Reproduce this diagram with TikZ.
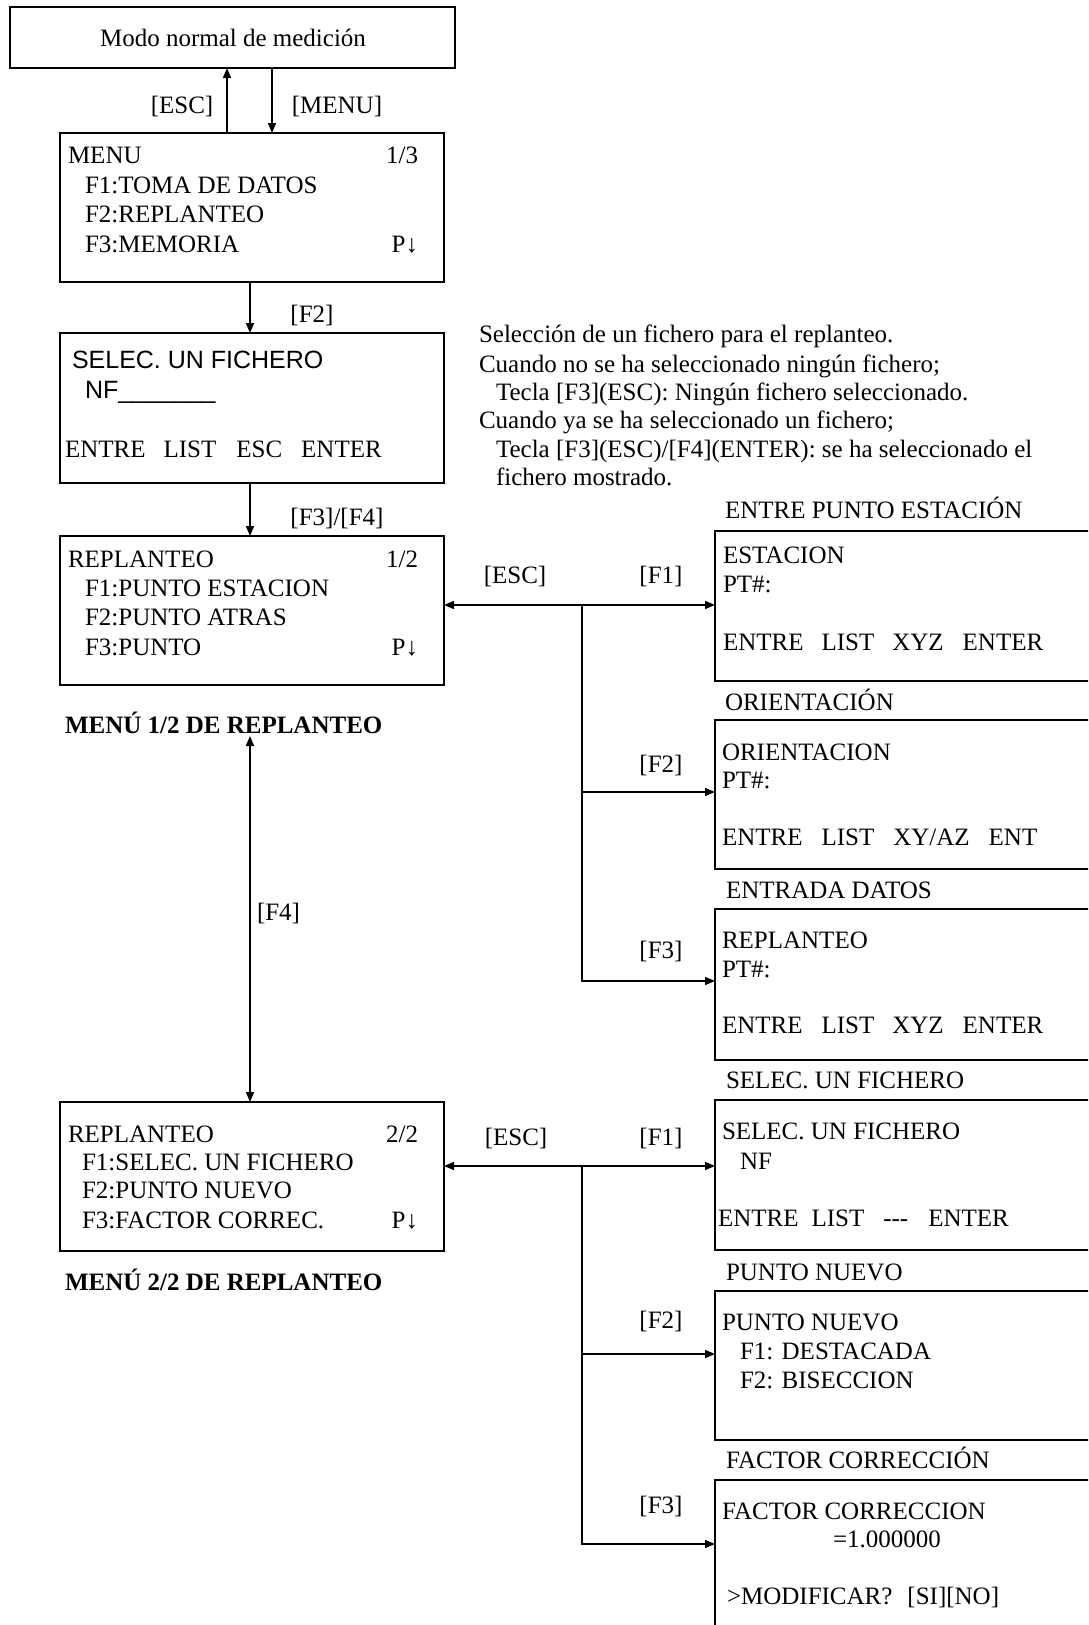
\documentclass[tikz,border=0pt]{standalone}
\usepackage{fontspec}
\setmainfont{Liberation Serif}
\newfontfamily\sansf{Liberation Sans}
\usetikzlibrary{arrows.meta}
\begin{document}
\begin{tikzpicture}[x=1pt,y=-1pt,
  box/.style={draw, line width=2.2pt, anchor=north west, inner sep=0pt, outer sep=0pt},
  txt/.style={anchor=base west, inner sep=0pt, outer sep=0pt, font=\fontsize{25}{30}\selectfont},
  txr/.style={txt, anchor=base east},
  lbl/.style={txt, anchor=base},
  boldlbl/.style={txt, font=\fontsize{25}{30}\selectfont\bfseries},
  conn/.style={line width=1.5pt, -{Triangle[length=10pt,width=8pt]}},
  conntwo/.style={line width=1.5pt, {Triangle[length=10pt,width=8pt]}-{Triangle[length=10pt,width=8pt]}},
  plainline/.style={line width=1.5pt}
]
\useasboundingbox (0,0) rectangle (1088,1625);
\clip (0,0) rectangle (1088,1625);

% ---------- left column boxes ----------
\node[box, minimum width=445, minimum height=61] (top) at (10,7) {};
\node[lbl] (toptext) at (233,46) {Modo normal de medición};

\node[box, minimum width=384, minimum height=149] (menu) at (60,133) {};
\node[txt] (m0) at (68,163) {MENU};
\node[txr] (m0r) at (418,163) {1/3};
\node[txt] (m1) at (85,193) {F1:TOMA DE DATOS};
\node[txt] (m2) at (85,222) {F2:REPLANTEO};
\node[txt] (m3) at (85,252) {F3:MEMORIA};
\node[txr] (m3r) at (418,252) {P↓};

\node[box, minimum width=384, minimum height=150] (sel) at (60,333) {};
\node[txt] (s0) at (72,368) {\sansf SELEC. UN FICHERO};
\node[txt] (s1) at (85,398) {\sansf NF\_\_\_\_\_\_\_};
\node[txt] (s2) at (65,457) {ENTRE\hspace{18pt}LIST\hspace{20pt}ESC\hspace{19pt}ENTER};

\node[box, minimum width=384, minimum height=149] (rep1) at (60,536) {};
\node[txt] (a0) at (68,567) {REPLANTEO};
\node[txr] (a0r) at (418,567) {1/2};
\node[txt] (a1) at (85,596) {F1:PUNTO ESTACION};
\node[txt] (a2) at (85,625) {F2:PUNTO ATRAS};
\node[txt] (a3) at (85,655) {F3:PUNTO};
\node[txr] (a3r) at (418,655) {P↓};
\node[boldlbl] (menu12) at (65,733) {MENÚ 1/2 DE REPLANTEO};

\node[box, minimum width=384, minimum height=149] (rep2) at (60,1102) {};
\node[txt] (b0) at (68,1142) {REPLANTEO};
\node[txr] (b0r) at (418,1142) {2/2};
\node[txt] (b1) at (82,1170) {F1:SELEC. UN FICHERO};
\node[txt] (b2) at (82,1198) {F2:PUNTO NUEVO};
\node[txt] (b3) at (82,1228) {F3:FACTOR CORREC.};
\node[txr] (b3r) at (418,1228) {P↓};
\node[boldlbl] (menu22) at (65,1290) {MENÚ 2/2 DE REPLANTEO};

% ---------- annotation ----------
\node[txt] (n1) at (479,342) {Selección de un fichero para el replanteo.};
\node[txt] (n2) at (479,372) {Cuando no se ha seleccionado ningún fichero;};
\node[txt] (n3) at (496,400) {Tecla [F3](ESC): Ningún fichero seleccionado.};
\node[txt] (n4) at (479,428) {Cuando ya se ha seleccionado un fichero;};
\node[txt] (n5) at (496,457) {Tecla [F3](ESC)/[F4](ENTER): se ha seleccionado el};
\node[txt] (n6) at (496,485) {fichero mostrado.};

% ---------- right column boxes ----------
\node[txt] (t1) at (725,518) {ENTRE PUNTO ESTACIÓN};
\node[box, minimum width=385, minimum height=150] (r1) at (715,531) {};
\node[txt] (r1a) at (723,563) {ESTACION};
\node[txt] (r1b) at (723,592) {PT\#:};
\node[txt] (r1c) at (723,650) {ENTRE\hspace{18pt}LIST\hspace{18pt}XYZ\hspace{19pt}ENTER};

\node[txt] (t2) at (725,710) {ORIENTACIÓN};
\node[box, minimum width=385, minimum height=149] (r2) at (715,720) {};
\node[txt] (r2a) at (722,760) {ORIENTACION};
\node[txt] (r2b) at (722,788) {PT\#:};
\node[txt] (r2c) at (722,845) {ENTRE\hspace{19pt}LIST\hspace{19pt}XY/AZ\hspace{19pt}ENT};

\node[txt] (t3) at (726,898) {ENTRADA DATOS};
\node[box, minimum width=385, minimum height=151] (r3) at (715,909) {};
\node[txt] (r3a) at (722,948) {REPLANTEO};
\node[txt] (r3b) at (722,977) {PT\#:};
\node[txt] (r3c) at (722,1033) {ENTRE\hspace{19pt}LIST\hspace{18pt}XYZ\hspace{19pt}ENTER};

\node[txt] (t4) at (726,1088) {SELEC. UN FICHERO};
\node[box, minimum width=385, minimum height=150] (r4) at (715,1100) {};
\node[txt] (r4a) at (722,1139) {SELEC. UN FICHERO};
\node[txt] (r4b) at (740,1169) {NF};
\node[txt] (r4c) at (718,1226) {ENTRE\hspace{13pt}LIST\hspace{19pt}-{}-{}-\hspace{20pt}ENTER};

\node[txt] (t5) at (726,1280) {PUNTO NUEVO};
\node[box, minimum width=385, minimum height=149] (r5) at (715,1291) {};
\node[txt] (r5a) at (722,1330) {PUNTO NUEVO};
\node[txt] (r5b) at (740,1359) {F1: DESTACADA};
\node[txt] (r5c) at (740,1388) {F2: BISECCION};

\node[txt] (t6) at (726,1468) {FACTOR CORRECCIÓN};
\node[box, minimum width=385, minimum height=170] (r6) at (715,1480) {};
\node[txt] (r6a) at (722,1519) {FACTOR CORRECCION};
\node[txt] (r6b) at (833,1547) {=1.000000};
\node[txt] (r6c) at (727,1604) {>MODIFICAR?\hspace{15pt}[SI][NO]};

% ---------- coordinates ----------
\coordinate (xu) at (227,0);
\coordinate (xd) at (272,0);
\coordinate (xm) at (250,0);
\coordinate (f4top) at (250,736);
\coordinate (j1) at (582,605);
\coordinate (k1) at (582,792);
\coordinate (k2) at (582,981);
\coordinate (j2) at (582,1166);
\coordinate (k3) at (582,1354);
\coordinate (k4) at (582,1544);

% ---------- connectors ----------
\draw[conn] (menu.north -| xu) -- (top.south -| xu);
\draw[conn] (top.south -| xd) -- (menu.north -| xd);
\node[lbl] (lesc) at (182,113) {[ESC]};
\node[lbl] (lmenu) at (337,113) {[MENU]};

\draw[conn] (menu.south -| xm) -- (sel.north -| xm);
\node[lbl] (lf2) at (312,322) {[F2]};
\draw[conn] (sel.south -| xm) -- (rep1.north -| xm);
\node[lbl] (lf34) at (337,525) {[F3]/[F4]};

\draw[conntwo] (f4top) -- (rep2.north -| xm);
\node[txt] (lf4) at (257,920) {[F4]};

\draw[conntwo] (rep1.east |- j1) -- (r1.west |- j1);
\draw[conn] (j1) |- (r3.west |- k2);
\draw[conn] (k1) -- (r2.west |- k1);
\node[lbl] (le1) at (515,583) {[ESC]};
\node[lbl] (lr1) at (661,583) {[F1]};
\node[lbl] (lr2) at (661,772) {[F2]};
\node[lbl] (lr3) at (661,958) {[F3]};

\draw[conntwo] (rep2.east |- j2) -- (r4.west |- j2);
\draw[conn] (j2) |- (r6.west |- k4);
\draw[conn] (k3) -- (r5.west |- k3);
\node[lbl] (le2) at (516,1145) {[ESC]};
\node[lbl] (lr4) at (661,1145) {[F1]};
\node[lbl] (lr5) at (661,1328) {[F2]};
\node[lbl] (lr6) at (661,1513) {[F3]};
\end{tikzpicture}
\end{document}
